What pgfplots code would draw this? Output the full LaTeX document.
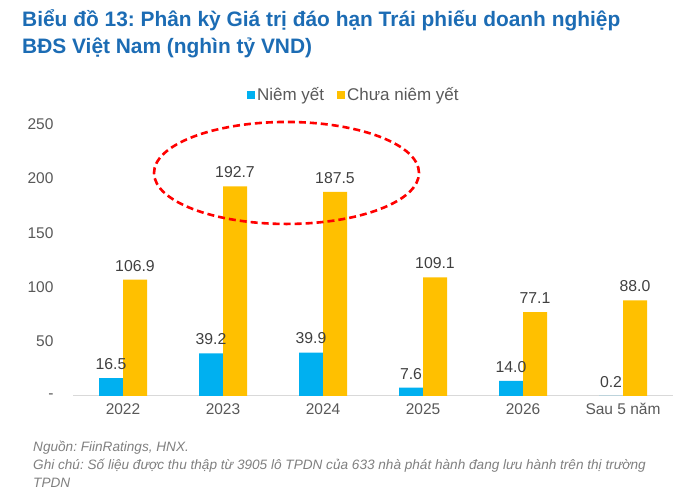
\documentclass[border=0pt]{standalone}
\usepackage{pgfplots}
\pgfplotsset{compat=1.18}
\usepackage{fontspec}
\setmainfont{Liberation Sans}
\frenchspacing
\definecolor{cblue}{HTML}{00B0F0}
\definecolor{cyellow}{HTML}{FFC000}
\definecolor{ctitle}{HTML}{1C6CB4}
\definecolor{ctick}{HTML}{595959}
\definecolor{cval}{HTML}{404040}
\definecolor{cnote}{HTML}{7F7F7F}
\definecolor{caxis}{HTML}{D9D9D9}
\begin{document}
\begin{tikzpicture}[x=1pt,y=1pt]
\useasboundingbox (0,0) rectangle (700,502);
\node[anchor=base west,font=\fontsize{20.9}{24}\selectfont\bfseries,text=ctitle,inner sep=0] at (22,502-27) {Biểu đồ 13: Phân kỳ Giá trị đáo hạn Trái phiếu doanh nghiệp};
\node[anchor=base west,font=\fontsize{20.9}{24}\selectfont\bfseries,text=ctitle,inner sep=0] at (22,502-54) {BĐS Việt Nam (nghìn tỷ VND)};
\begin{axis}[
  at={(73pt,106pt)}, anchor=south west,
  scale only axis, width=600pt, height=272pt,
  ybar=0pt, bar width=24pt,
  xmin=-0.5, xmax=5.5, ymin=0, ymax=250,
  xtick={0,1,2,3,4,5},
  xticklabels={2022,2023,2024,2025,2026,Sau 5 năm},
  ytick={0,50,100,150,200,250},
  yticklabels={-,50,100,150,200,250},
  axis x line*=bottom, axis y line*=left,
  x axis line style={draw=caxis,line width=1pt,-},
  y axis line style={draw=none},
  major tick length=0pt,
  /pgf/number format/assume math mode=true,
  tick label style={font=\fontsize{15.5}{18}\selectfont,text=ctick},
  xticklabel style={yshift=-4pt},
  yticklabel style={xshift=-16pt},
  clip=false,
  enlargelimits=false,
  nodes near coords={\pgfmathprintnumber[fixed,fixed zerofill,precision=1,assume math mode=true]{\pgfplotspointmeta}},
  every node near coord/.append style={font=\fontsize{15.8}{18}\selectfont,text=cval,yshift=5pt},
  legend style={at={(0.468,1.107)},anchor=center,draw=none,fill=none,legend columns=2,
    font=\fontsize{17}{18}\selectfont,text=ctick,
    /tikz/every even column/.append style={column sep=11pt}},
  legend image code/.code={\fill[#1,draw=none] (0pt,-4pt) rectangle (8pt,4pt);},
]
\addplot[fill=cblue,draw=none] coordinates {(0,16.5) (1,39.2) (2,39.9) (3,7.6) (4,14.0) (5,0.2)};
\addplot[fill=cyellow,draw=none] coordinates {(0,106.9) (1,192.7) (2,187.5) (3,109.1) (4,77.1) (5,88.0)};
\legend{Niêm yết, Chưa niêm yết}
\draw[red,line width=2.6pt,dash pattern=on 7pt off 4pt] (axis cs:1.635,205) ellipse [x radius=132.5pt, y radius=51pt];
\end{axis}
\begin{scope}[every node/.style={anchor=base west,inner sep=0,font=\fontsize{13.6}{15}\selectfont\itshape,text=cnote}]
\node at (33,502-452) {Nguồn: FiinRatings, HNX.};
\node at (33,502-470) {Ghi chú: Số liệu được thu thập từ 3905 lô TPDN của 633 nhà phát hành đang lưu hành trên thị trường};
\node at (33,502-488) {TPDN};
\end{scope}
\end{tikzpicture}
\end{document}
